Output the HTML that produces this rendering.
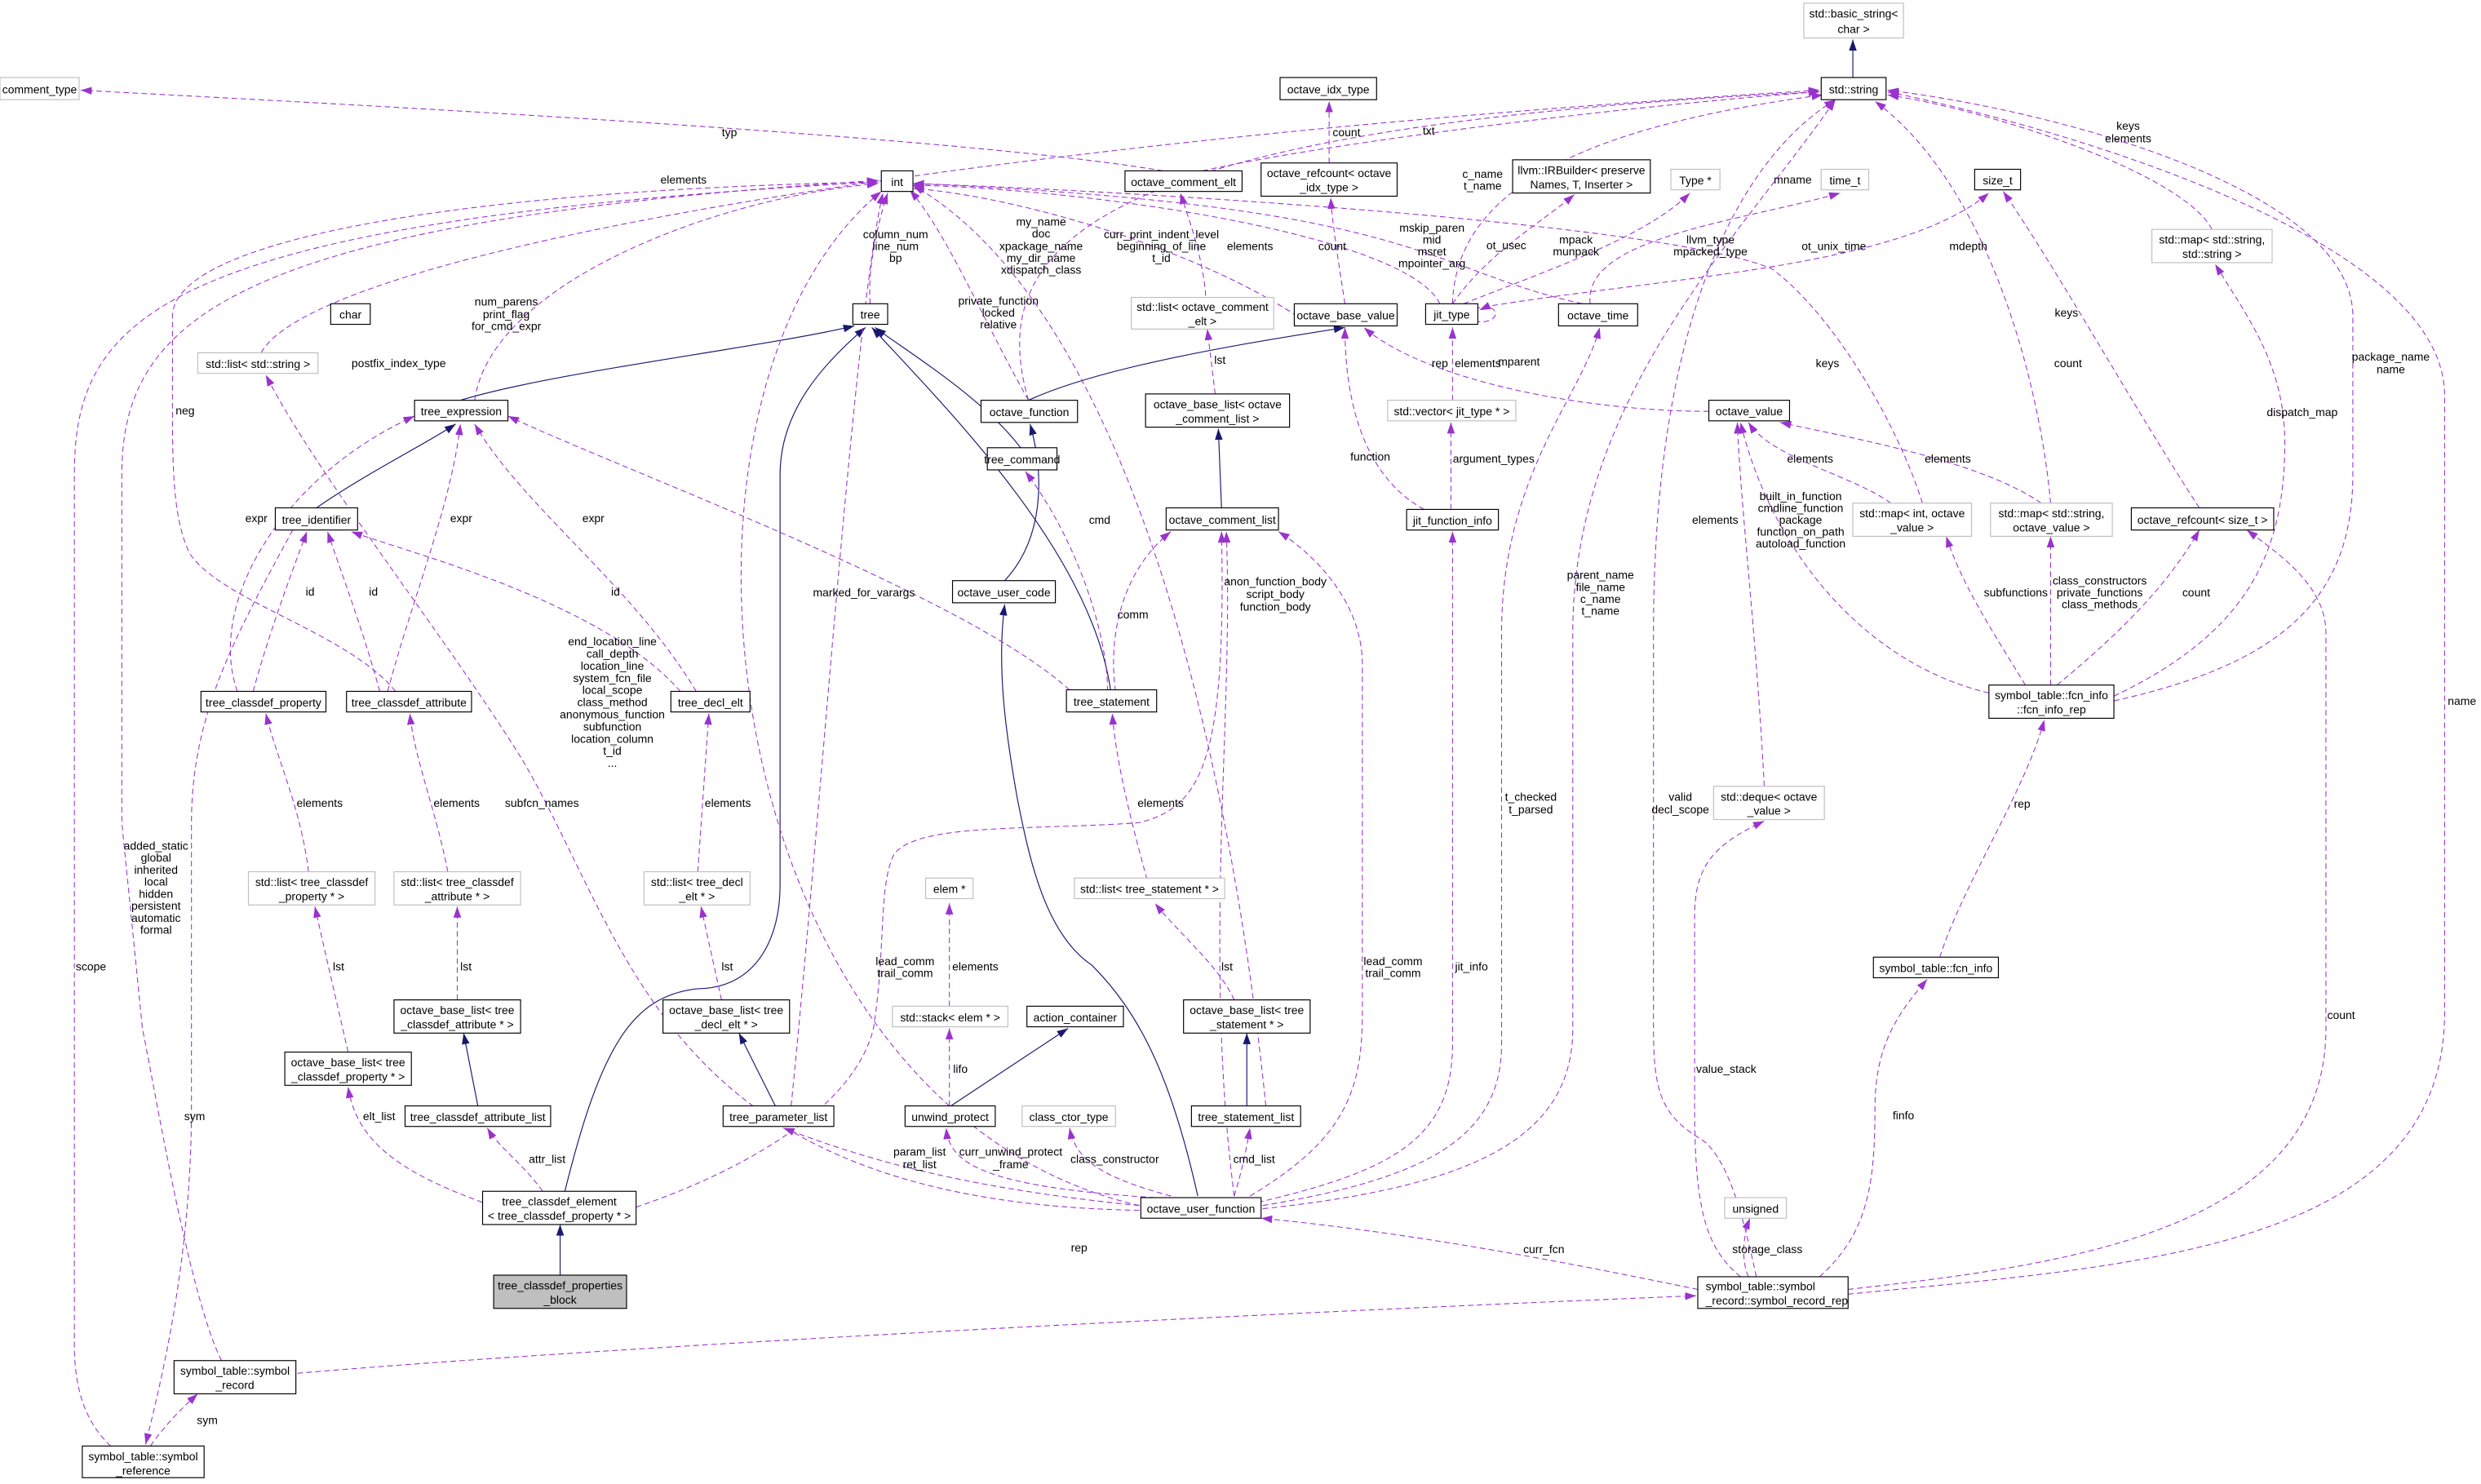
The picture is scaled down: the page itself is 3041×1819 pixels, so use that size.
<!DOCTYPE html>
<html><head><meta charset="utf-8"><style>
html,body{margin:0;padding:0;background:#fff;}
svg{display:block;}
text{font-family:"Liberation Sans",Arial,sans-serif;font-size:7.2px;fill:#000;}
.n{fill:#fff;stroke:#000;stroke-width:0.6;}
.g{fill:#fff;stroke:#bfbfbf;stroke-width:0.6;}
.d{fill:none;stroke:#9a32cd;stroke-width:0.55;stroke-dasharray:3.5,2.2;marker-end:url(#pa);}
.s{fill:none;stroke:#191970;stroke-width:0.6;marker-end:url(#na);}
</style></head><body>
<svg width="3041" height="1819" viewBox="0 0 1568 938" preserveAspectRatio="none" xmlns="http://www.w3.org/2000/svg">
<defs>
<marker id="pa" viewBox="0 0 10 10" refX="10" refY="5" markerWidth="7" markerHeight="7" markerUnits="userSpaceOnUse" orient="auto"><path d="M0,1.5 L10,5 L0,8.5 z" fill="#9a32cd"/></marker>
<marker id="na" viewBox="0 0 10 10" refX="10" refY="5" markerWidth="7" markerHeight="7" markerUnits="userSpaceOnUse" orient="auto"><path d="M0,1.5 L10,5 L0,8.5 z" fill="#191970"/></marker>
</defs>

<!-- solid inheritance edges -->
<path class="s" d="M1171,49 L1171,25"/>
<path class="s" d="M291,253 C350,235 480,220 540,206"/>
<path class="s" d="M645,283 C620,250 570,220 553,207"/>
<path class="s" d="M702,437 C690,350 600,260 551,207"/>
<path class="s" d="M357,753 C380,660 400,630 440,625 C480,625 493,590 493,560 L493,300 C493,260 520,230 547,207"/>
<path class="s" d="M200,321 C230,300 270,280 288,268"/>
<path class="s" d="M650,253 C700,230 800,215 850,207"/>
<path class="s" d="M635,367 C660,340 660,300 651,268"/>
<path class="s" d="M757,756 C740,680 720,640 690,610 C660,590 650,540 643,505 C635,460 630,420 635,382"/>
<path class="s" d="M772,321 L770,271"/>
<path class="s" d="M601,699 L675,650"/>
<path class="s" d="M302,699 L293,653"/>
<path class="s" d="M490,699 L467,653"/>
<path class="s" d="M788,699 L788,653"/>
<path class="s" d="M354,806 L354,774"/>

<!-- dashed edges -->
<path class="d" d="M735,108 C600,85 200,65 51,57"/>
<path class="d" d="M760,108 C850,88 1050,65 1150,58"/>
<path class="d" d="M840,103 L840,64"/>
<path class="d" d="M165,223 C200,160 600,90 1150,57"/>
<path class="d" d="M300,253 C310,180 450,125 555,116"/>
<path class="d" d="M550,192 C548,170 555,140 561,122"/>
<path class="d" d="M250,437 C220,400 140,380 120,350 C110,330 109,300 109,260 L109,200 C109,150 300,120 555,115"/>
<path class="d" d="M70,914 C55,900 47,880 47,850 L47,300 C47,200 100,140 555,115"/>
<path class="d" d="M140,860 C120,820 100,700 90,650 L77,520 L77,300 C77,200 150,140 555,114"/>
<path class="d" d="M150,437 C130,380 180,300 262,263"/>
<path class="d" d="M160,437 C170,400 185,360 194,336"/>
<path class="d" d="M245,437 C260,380 285,320 291,268"/>
<path class="d" d="M240,437 C230,400 215,360 207,336"/>
<path class="d" d="M440,437 C400,370 330,320 300,268"/>
<path class="d" d="M430,437 C380,380 260,350 222,336"/>
<path class="d" d="M680,440 C620,380 400,300 321,263"/>
<path class="d" d="M700,437 C700,400 680,340 648,298"/>
<path class="d" d="M705,437 C700,400 710,360 740,336"/>
<path class="d" d="M650,253 C620,200 600,150 575,120"/>
<path class="d" d="M650,253 C620,150 700,80 1150,58"/>
<path class="d" d="M800,699 C780,500 720,200 577,117"/>
<path class="d" d="M762,187 C760,160 750,135 746,122"/>
<path class="d" d="M768,249 L763,208"/>
<path class="d" d="M850,192 C845,160 842,140 841,125"/>
<path class="d" d="M820,200 C760,160 650,125 577,119"/>
<path class="d" d="M918,192 C920,120 1000,80 1152,60"/>
<path class="d" d="M918,192 C940,160 975,140 995,123"/>
<path class="d" d="M925,192 C980,170 1040,150 1068,122"/>
<path class="d" d="M1005,192 C1000,150 1100,140 1163,122"/>
<path class="d" d="M1000,192 C900,170 900,130 577,116"/>
<path class="d" d="M932,195 C1050,175 1200,170 1257,122"/>
<path class="d" d="M932,203 C950,206 948,190 935,196"/>
<path class="d" d="M910,192 C890,150 700,120 577,117"/>
<path class="d" d="M918,253 L918,207"/>
<path class="d" d="M1080,260 C1000,260 900,240 862,207"/>
<path class="d" d="M917,322 L917,267"/>
<path class="d" d="M900,322 C860,300 850,250 850,207"/>
<path class="d" d="M1398,145 C1380,110 1260,70 1193,60"/>
<path class="d" d="M1296,318 C1290,250 1260,120 1185,64"/>
<path class="d" d="M1290,318 C1250,290 1160,275 1125,267"/>
<path class="d" d="M1215,318 C1200,270 1160,200 1120,170 C1050,140 700,120 577,116"/>
<path class="d" d="M1195,318 C1170,300 1120,290 1105,267"/>
<path class="d" d="M1390,321 C1350,260 1300,170 1266,121"/>
<path class="d" d="M1336,443 C1440,420 1487,380 1487,300 L1487,200 C1487,120 1300,70 1193,57"/>
<path class="d" d="M1336,440 C1420,400 1444,350 1444,280 C1444,230 1420,200 1400,167"/>
<path class="d" d="M1257,438 C1180,420 1120,350 1100,267"/>
<path class="d" d="M1280,433 C1260,400 1240,370 1230,339"/>
<path class="d" d="M1296,433 L1296,339"/>
<path class="d" d="M1300,433 C1340,400 1370,370 1390,335"/>
<path class="d" d="M1226,605 C1240,560 1280,500 1292,455"/>
<path class="d" d="M1150,807 C1180,780 1185,750 1185,700 C1185,660 1200,640 1218,619"/>
<path class="d" d="M1100,807 C1080,790 1071,770 1071,700 L1071,580 C1071,550 1080,535 1115,519"/>
<path class="d" d="M1115,497 C1110,400 1100,320 1098,267"/>
<path class="d" d="M1110,807 C1100,760 1090,730 1075,720 C1050,705 1045,690 1045,650 L1045,400 C1045,200 1100,100 1160,63"/>
<path class="d" d="M1168,818 C1350,800 1545,790 1545,640 L1545,250 C1545,150 1300,80 1193,58"/>
<path class="d" d="M1105,807 C1100,795 1102,780 1106,770"/>
<path class="d" d="M1168,815 C1300,800 1470,780 1470,650 L1470,400 C1470,370 1440,350 1420,335"/>
<path class="d" d="M1073,815 C1000,800 900,780 797,770"/>
<path class="d" d="M188,868 C400,850 800,830 1072,819"/>
<path class="d" d="M798,762 C900,745 949,720 949,660 L949,400 C949,300 1000,250 1011,207"/>
<path class="d" d="M798,764 C930,750 994,720 994,650 L994,400 C994,250 1100,150 1160,63"/>
<path class="d" d="M795,760 C880,740 918,720 918,660 L918,336"/>
<path class="d" d="M790,756 C850,720 861,690 861,640 L861,420 C861,380 830,350 808,336"/>
<path class="d" d="M780,756 C785,740 788,725 790,713"/>
<path class="d" d="M740,756 C700,745 680,735 676,713"/>
<path class="d" d="M730,757 C620,750 600,735 598,713"/>
<path class="d" d="M720,762 C600,750 540,730 495,713"/>
<path class="d" d="M720,765 C420,760 400,600 330,480 C280,400 200,300 168,237"/>
<path class="d" d="M720,762 C450,700 400,250 557,121"/>
<path class="d" d="M780,756 C760,600 780,450 775,336"/>
<path class="d" d="M500,699 C520,500 540,200 558,122"/>
<path class="d" d="M725,556 C715,520 705,480 703,451"/>
<path class="d" d="M780,632 C770,610 745,590 730,571"/>
<path class="d" d="M600,636 L600,571"/>
<path class="d" d="M600,699 L600,650"/>
<path class="d" d="M195,551 C190,510 175,480 168,451"/>
<path class="d" d="M283,551 C275,510 262,480 259,451"/>
<path class="d" d="M441,551 L448,451"/>
<path class="d" d="M289,632 L289,573"/>
<path class="d" d="M456,632 L443,573"/>
<path class="d" d="M220,665 C212,630 205,600 199,573"/>
<path class="d" d="M305,760 C250,740 225,720 220,687"/>
<path class="d" d="M343,753 C330,735 315,725 308,713"/>
<path class="d" d="M402,763 C470,740 540,700 552,650 C560,600 555,560 565,540 C580,520 650,525 720,520 C760,510 775,480 772,336"/>
<path class="d" d="M185,335 C150,400 121,450 121,520 L121,700 C121,800 100,880 92,913"/>
<path class="d" d="M95,914 C105,900 115,890 125,881"/>

<!-- nodes -->
<rect class="g" x="1140" y="2" width="63" height="22"/><text x="1171.5" y="11" text-anchor="middle">std::basic_string&lt;</text><text x="1171.5" y="21" text-anchor="middle">char &gt;</text>
<rect class="n" x="1151" y="49" width="41" height="14"/><text x="1171.5" y="59" text-anchor="middle">std::string</text>
<rect class="g" x="0" y="49" width="50" height="14"/><text x="25" y="59" text-anchor="middle">comment_type</text>
<rect class="n" x="809" y="49" width="61" height="14"/><text x="839.5" y="59" text-anchor="middle">octave_idx_type</text>
<rect class="n" x="557" y="108" width="20" height="13"/><text x="567" y="117.5" text-anchor="middle">int</text>
<rect class="n" x="711" y="108" width="74" height="13"/><text x="748" y="117.5" text-anchor="middle">octave_comment_elt</text>
<rect class="n" x="797" y="103" width="86" height="21"/><text x="840" y="112" text-anchor="middle">octave_refcount&lt; octave</text><text x="840" y="121" text-anchor="middle">_idx_type &gt;</text>
<rect class="n" x="956" y="101" width="87" height="21"/><text x="999.5" y="110" text-anchor="middle">llvm::IRBuilder&lt; preserve</text><text x="999.5" y="119" text-anchor="middle">Names, T, Inserter &gt;</text>
<rect class="g" x="1056" y="107" width="31" height="13"/><text x="1071.5" y="116.5" text-anchor="middle">Type *</text>
<rect class="g" x="1151" y="107" width="30" height="13"/><text x="1166" y="116.5" text-anchor="middle">time_t</text>
<rect class="n" x="1248" y="107" width="29" height="13"/><text x="1262.5" y="116.5" text-anchor="middle">size_t</text>
<rect class="g" x="1360" y="145" width="76" height="21"/><text x="1398" y="154" text-anchor="middle">std::map&lt; std::string,</text><text x="1398" y="163" text-anchor="middle">std::string &gt;</text>
<rect class="n" x="209" y="192" width="25" height="13"/><text x="221.5" y="201.5" text-anchor="middle">char</text>
<rect class="g" x="125" y="223" width="76" height="13"/><text x="163" y="232.5" text-anchor="middle">std::list&lt; std::string &gt;</text>
<rect class="n" x="539" y="192" width="22" height="13"/><text x="550" y="201.5" text-anchor="middle">tree</text>
<rect class="n" x="818" y="192" width="65" height="14"/><text x="850.5" y="202" text-anchor="middle">octave_base_value</text>
<rect class="n" x="901" y="192" width="33" height="13"/><text x="917.5" y="201.5" text-anchor="middle">jit_type</text>
<rect class="n" x="985" y="192" width="50" height="14"/><text x="1010" y="202" text-anchor="middle">octave_time</text>
<rect class="g" x="715" y="188" width="90" height="20"/><text x="760" y="196.5" text-anchor="middle">std::list&lt; octave_comment</text><text x="760" y="205.5" text-anchor="middle">_elt &gt;</text>
<rect class="n" x="262" y="253" width="59" height="13"/><text x="291.5" y="262.5" text-anchor="middle">tree_expression</text>
<rect class="n" x="620" y="253" width="61" height="14"/><text x="650.5" y="263" text-anchor="middle">octave_function</text>
<rect class="n" x="724" y="249" width="91" height="21"/><text x="769.5" y="258" text-anchor="middle">octave_base_list&lt; octave</text><text x="769.5" y="267" text-anchor="middle">_comment_list &gt;</text>
<rect class="g" x="877" y="253" width="81" height="13"/><text x="917.5" y="262.5" text-anchor="middle">std::vector&lt; jit_type * &gt;</text>
<rect class="n" x="1080" y="253" width="51" height="13"/><text x="1105.5" y="262.5" text-anchor="middle">octave_value</text>
<rect class="n" x="624" y="283" width="44" height="14"/><text x="646" y="293" text-anchor="middle">tree_command</text>
<rect class="n" x="174" y="321" width="52" height="14"/><text x="200" y="331" text-anchor="middle">tree_identifier</text>
<rect class="n" x="889" y="322" width="58" height="13"/><text x="918" y="331.5" text-anchor="middle">jit_function_info</text>
<rect class="n" x="737" y="321" width="71" height="14"/><text x="772.5" y="331" text-anchor="middle">octave_comment_list</text>
<rect class="g" x="1171" y="318" width="75" height="21"/><text x="1208.5" y="327" text-anchor="middle">std::map&lt; int, octave</text><text x="1208.5" y="336" text-anchor="middle">_value &gt;</text>
<rect class="g" x="1258" y="318" width="77" height="21"/><text x="1296.5" y="327" text-anchor="middle">std::map&lt; std::string,</text><text x="1296.5" y="336" text-anchor="middle">octave_value &gt;</text>
<rect class="n" x="1347" y="321" width="90" height="14"/><text x="1392" y="331" text-anchor="middle">octave_refcount&lt; size_t &gt;</text>
<rect class="n" x="602" y="367" width="65" height="14"/><text x="634.5" y="377" text-anchor="middle">octave_user_code</text>
<rect class="n" x="127" y="437" width="79" height="13"/><text x="166.5" y="446.5" text-anchor="middle">tree_classdef_property</text>
<rect class="n" x="219" y="437" width="79" height="13"/><text x="258.5" y="446.5" text-anchor="middle">tree_classdef_attribute</text>
<rect class="n" x="424" y="437" width="50" height="13"/><text x="449" y="446.5" text-anchor="middle">tree_decl_elt</text>
<rect class="n" x="674" y="436" width="57" height="14"/><text x="702.5" y="446" text-anchor="middle">tree_statement</text>
<rect class="n" x="1257" y="433" width="79" height="21"/><text x="1296.5" y="442" text-anchor="middle">symbol_table::fcn_info</text><text x="1296.5" y="451" text-anchor="middle">::fcn_info_rep</text>
<rect class="g" x="157" y="551" width="80" height="21"/><text x="197" y="560" text-anchor="middle">std::list&lt; tree_classdef</text><text x="197" y="569" text-anchor="middle">_property * &gt;</text>
<rect class="g" x="249" y="551" width="80" height="21"/><text x="289" y="560" text-anchor="middle">std::list&lt; tree_classdef</text><text x="289" y="569" text-anchor="middle">_attribute * &gt;</text>
<rect class="g" x="407" y="551" width="67" height="21"/><text x="440.5" y="560" text-anchor="middle">std::list&lt; tree_decl</text><text x="440.5" y="569" text-anchor="middle">_elt * &gt;</text>
<rect class="g" x="585" y="555" width="30" height="13"/><text x="600" y="564.5" text-anchor="middle">elem *</text>
<rect class="g" x="679" y="555" width="95" height="13"/><text x="726.5" y="564.5" text-anchor="middle">std::list&lt; tree_statement * &gt;</text>
<rect class="g" x="1083" y="497" width="70" height="21"/><text x="1118" y="506" text-anchor="middle">std::deque&lt; octave</text><text x="1118" y="515" text-anchor="middle">_value &gt;</text>
<rect class="n" x="1184" y="605" width="79" height="13"/><text x="1223.5" y="614.5" text-anchor="middle">symbol_table::fcn_info</text>
<rect class="n" x="649" y="636" width="61" height="13"/><text x="679.5" y="645.5" text-anchor="middle">action_container</text>
<rect class="g" x="564" y="636" width="73" height="13"/><text x="600.5" y="645.5" text-anchor="middle">std::stack&lt; elem * &gt;</text>
<rect class="n" x="249" y="632" width="80" height="21"/><text x="289" y="641" text-anchor="middle">octave_base_list&lt; tree</text><text x="289" y="650" text-anchor="middle">_classdef_attribute * &gt;</text>
<rect class="n" x="419" y="632" width="80" height="21"/><text x="459" y="641" text-anchor="middle">octave_base_list&lt; tree</text><text x="459" y="650" text-anchor="middle">_decl_elt * &gt;</text>
<rect class="n" x="748" y="632" width="80" height="21"/><text x="788" y="641" text-anchor="middle">octave_base_list&lt; tree</text><text x="788" y="650" text-anchor="middle">_statement * &gt;</text>
<rect class="n" x="180" y="665" width="80" height="21"/><text x="220" y="674" text-anchor="middle">octave_base_list&lt; tree</text><text x="220" y="683" text-anchor="middle">_classdef_property * &gt;</text>
<rect class="n" x="256" y="699" width="92" height="13"/><text x="302" y="708.5" text-anchor="middle">tree_classdef_attribute_list</text>
<rect class="n" x="572" y="699" width="57" height="13"/><text x="600.5" y="708.5" text-anchor="middle">unwind_protect</text>
<rect class="g" x="646" y="699" width="59" height="13"/><text x="675.5" y="708.5" text-anchor="middle">class_ctor_type</text>
<rect class="n" x="457" y="699" width="70" height="13"/><text x="492" y="708.5" text-anchor="middle">tree_parameter_list</text>
<rect class="n" x="753" y="699" width="69" height="13"/><text x="787.5" y="708.5" text-anchor="middle">tree_statement_list</text>
<rect class="n" x="305" y="753" width="97" height="21"/><text x="353.5" y="762" text-anchor="middle">tree_classdef_element</text><text x="353.5" y="771" text-anchor="middle">&lt; tree_classdef_property * &gt;</text>
<rect class="n" x="721" y="757" width="76" height="13"/><text x="759" y="766.5" text-anchor="middle">octave_user_function</text>
<rect class="g" x="1090" y="757" width="39" height="13"/><text x="1109.5" y="766.5" text-anchor="middle">unsigned</text>
<rect x="312" y="806" width="84" height="21" fill="#bfbfbf" stroke="#000" stroke-width="0.6"/><text x="354" y="815" text-anchor="middle">tree_classdef_properties</text><text x="354" y="824" text-anchor="middle">_block</text>
<rect class="n" x="1073" y="807" width="95" height="20"/><text x="1078" y="815.5">symbol_table::symbol</text><text x="1078" y="824.5">_record::symbol_record_rep</text>
<rect class="n" x="110" y="860" width="77" height="21"/><text x="148.5" y="869" text-anchor="middle">symbol_table::symbol</text><text x="148.5" y="878" text-anchor="middle">_record</text>
<rect class="n" x="52" y="914" width="77" height="20"/><text x="90.5" y="923" text-anchor="middle">symbol_table::symbol</text><text x="90.5" y="932" text-anchor="middle">_reference</text>

<!-- edge labels -->
<g text-anchor="middle">
<text x="461" y="86">typ</text>
<text x="903" y="85">txt</text>
<text x="851" y="86">count</text>
<text x="432" y="116">elements</text>
<text x="937" y="112.5">c_name</text><text x="937" y="120">t_name</text>
<text x="1133" y="116">mname</text>
<text x="996" y="154">mpack</text><text x="996" y="161.5">munpack</text>
<text x="1081" y="154">llvm_type</text><text x="1081" y="161.5">mpacked_type</text>
<text x="1244" y="158">mdepth</text>
<text x="1159" y="158">ot_unix_time</text>
<text x="1345" y="82">keys</text><text x="1345" y="90">elements</text>
<text x="658" y="142.5">my_name</text><text x="658" y="150">doc</text><text x="658" y="158">xpackage_name</text><text x="658" y="165.5">my_dir_name</text><text x="658" y="173">xdispatch_class</text>
<text x="734" y="150.5">curr_print_indent_level</text><text x="734" y="158">beginning_of_line</text><text x="734" y="165.5">t_id</text>
<text x="905" y="146.5">mskip_paren</text><text x="905" y="154">mid</text><text x="905" y="161.5">msret</text><text x="905" y="169">mpointer_arg</text>
<text x="952" y="157.5">ot_usec</text>
<text x="566" y="150.5">column_num</text><text x="566" y="158">line_num</text><text x="566" y="165.5">bp</text>
<text x="842" y="158">count</text>
<text x="790" y="158">elements</text>
<text x="320" y="193">num_parens</text><text x="320" y="201">print_flag</text><text x="320" y="208.5">for_cmd_expr</text>
<text x="1511" y="228">package_name</text><text x="1511" y="236">name</text>
<text x="1306" y="200">keys</text>
<text x="1307" y="232">count</text>
<text x="960" y="231">mparent</text>
<text x="631" y="192.5">private_function</text><text x="631" y="200">locked</text><text x="631" y="207.5">relative</text>
<text x="252" y="232">postfix_index_type</text>
<text x="771" y="230">lst</text>
<text x="910" y="232">rep</text><text x="934" y="232">elements</text>
<text x="1155" y="232">keys</text>
<text x="866" y="291">function</text>
<text x="944" y="292.5">argument_types</text>
<text x="1455" y="263">dispatch_map</text>
<text x="117" y="262">neg</text>
<text x="1144" y="292.5">elements</text>
<text x="1231" y="292.5">elements</text>
<text x="162" y="330">expr</text><text x="291.5" y="330">expr</text><text x="375" y="330">expr</text>
<text x="695" y="331">cmd</text>
<text x="1138" y="316">built_in_function</text><text x="1138" y="323.5">cmdline_function</text><text x="1138" y="331">package</text><text x="1138" y="338.5">function_on_path</text><text x="1138" y="346">autoload_function</text>
<text x="806" y="370">anon_function_body</text><text x="806" y="378">script_body</text><text x="806" y="386">function_body</text>
<text x="716" y="391">comm</text>
<text x="196" y="376.5">id</text><text x="236" y="376.5">id</text><text x="389" y="376.5">id</text>
<text x="1327" y="369.5">class_constructors</text><text x="1327" y="377">private_functions</text><text x="1327" y="384.5">class_methods</text>
<text x="1274" y="377">subfunctions</text>
<text x="1388" y="377">count</text>
<text x="387" y="408">end_location_line</text><text x="387" y="415.7">call_depth</text><text x="387" y="423.4">location_line</text><text x="387" y="431">system_fcn_file</text><text x="387" y="438.7">local_scope</text><text x="387" y="446.4">class_method</text><text x="387" y="454">anonymous_function</text><text x="387" y="461.7">subfunction</text><text x="387" y="469.4">location_column</text><text x="387" y="477">t_id</text><text x="387" y="484.7">...</text>
<text x="1011.5" y="366">parent_name</text><text x="1011.5" y="373.5">file_name</text><text x="1011.5" y="381">c_name</text><text x="1011.5" y="388.5">t_name</text>
<text x="1084" y="331">elements</text>
<text x="1062" y="506">valid</text><text x="1062" y="514">decl_scope</text>
<text x="967.5" y="506">t_checked</text><text x="967.5" y="514">t_parsed</text>
<text x="342.5" y="510">subfcn_names</text>
<text x="546" y="377">marked_for_varargs</text>
<text x="202" y="510">elements</text><text x="288.6" y="510">elements</text><text x="460" y="510">elements</text>
<text x="733.5" y="510">elements</text>
<text x="98.6" y="537">added_static</text><text x="98.6" y="544.6">global</text><text x="98.6" y="552.2">inherited</text><text x="98.6" y="559.8">local</text><text x="98.6" y="567.4">hidden</text><text x="98.6" y="575">persistent</text><text x="98.6" y="582.6">automatic</text><text x="98.6" y="590.2">formal</text>
<text x="214" y="613.5">lst</text><text x="294.5" y="613.5">lst</text><text x="459.6" y="613.5">lst</text><text x="775.5" y="613.5">lst</text>
<text x="616.4" y="613.5">elements</text>
<text x="607" y="678">lifo</text>
<text x="572" y="610">lead_comm</text><text x="572" y="617.5">trail_comm</text>
<text x="880.4" y="610">lead_comm</text><text x="880.4" y="617.5">trail_comm</text>
<text x="930" y="613.5">jit_info</text>
<text x="1278" y="510.5">rep</text>
<text x="1479.6" y="644">count</text>
<text x="1091" y="678">value_stack</text>
<text x="1203" y="707.5">finfo</text>
<text x="1556" y="445.5">name</text>
<text x="57.5" y="613.5">scope</text>
<text x="239.6" y="708">elt_list</text>
<text x="345.8" y="735">attr_list</text>
<text x="581.2" y="730.5">param_list</text><text x="581.2" y="738.5">ret_list</text>
<text x="638.8" y="730.5">curr_unwind_protect</text><text x="638.8" y="738.5">_frame</text>
<text x="704.5" y="735">class_constructor</text>
<text x="792.6" y="735">cmd_list</text>
<text x="1117" y="792">storage_class</text>
<text x="975.7" y="792">curr_fcn</text>
<text x="682" y="791">rep</text>
<text x="123" y="708">sym</text>
<text x="131" y="900">sym</text>
</g>
</svg>
</body></html>
